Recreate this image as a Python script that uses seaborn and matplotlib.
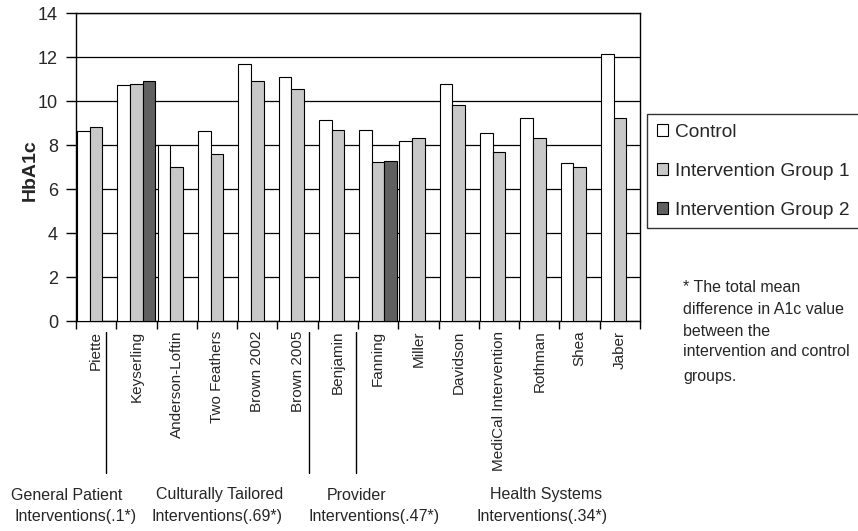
import matplotlib
matplotlib.use("Agg")
import matplotlib.pyplot as plt
import matplotlib.transforms as mtransforms
from matplotlib.patches import Patch
import numpy as np
import pandas as pd
import seaborn as sns

studies = ["Piette", "Keyserling", "Anderson-Loftin", "Two Feathers", "Brown 2002",
           "Brown 2005", "Benjamin", "Fanning", "Miller", "Davidson",
           "MediCal Intervention", "Rothman", "Shea", "Jaber"]
control = [8.62, 10.71, 7.98, 8.62, 11.67, 11.09, 9.15, 8.70, 8.18, 10.79, 8.56, 9.21, 7.17, 12.12]
group1 = [8.82, 10.79, 7.00, 7.60, 10.92, 10.55, 8.70, 7.23, 8.33, 9.83, 7.68, 8.32, 6.98, 9.21]
# Only two studies reported a second intervention arm
group2_studies = ["Keyserling", "Fanning"]
group2 = [10.92, 7.29]

groups = ["Control", "Intervention Group 1", "Intervention Group 2"]
colors = ["#ffffff", "#c8c8c8", "#606060"]

category_labels = [
    ("General Patient", "Interventions(.1*)"),
    ("Culturally Tailored", "Interventions(.69*)"),
    ("Provider", "Interventions(.47*)"),
    ("Health Systems", "Interventions(.34*)"),
]
footnote = ["* The total mean", "difference in A1c value", "between the",
            "intervention and control", "groups."]

rows = []
rows += [(s, groups[0], v) for s, v in zip(studies, control)]
rows += [(s, groups[1], v) for s, v in zip(studies, group1)]
rows += [(s, groups[2], v) for s, v in zip(group2_studies, group2)]
df = pd.DataFrame(rows, columns=["study", "group", "hba1c"])

sns.set_theme(style="white")
plt.rcParams["font.family"] = ["Liberation Sans", "DejaVu Sans"]

W, H = 858, 531
fig = plt.figure(figsize=(W / 100, H / 100), dpi=100)
ax = fig.add_axes([76 / W, 1 - 321 / H, (640 - 76) / W, (321 - 13) / H])

sns.barplot(data=df, x="study", y="hba1c", hue="group", order=studies,
            hue_order=groups, palette=dict(zip(groups, colors)), saturation=1,
            width=0.945, edgecolor="black", linewidth=0.8, errorbar=None,
            legend=False, ax=ax, zorder=3)

ax.set_ylim(0, 14)
ax.set_xlim(-0.5, len(studies) - 0.5)
ax.set_yticks(np.arange(0, 15, 2))
ax.yaxis.grid(True, color="black", linewidth=0.9, zorder=0)
ax.xaxis.grid(False)
ax.set_axisbelow(True)
for sp in ax.spines.values():
    sp.set_visible(True)
    sp.set_color("black")
    sp.set_linewidth(1.0)

ax.set_xlabel("")
ax.set_ylabel("")
ax.set_xticks(range(len(studies)))
ax.set_xticklabels(studies, rotation=90, fontsize=11, va="top", ha="center")
ax.set_xticks(np.arange(-0.5, len(studies), 1), minor=True)
ax.tick_params(axis="x", which="major", length=0, pad=7)
ax.tick_params(axis="x", which="minor", length=6, width=1, color="black", direction="out", bottom=True)
ax.tick_params(axis="y", length=7, width=1, color="black", direction="out", left=True,
               labelsize=13, pad=6)

# Separator lines between the intervention categories, below the axis
trans = mtransforms.blended_transform_factory(ax.transData, ax.transAxes)
for xs in [0.24, 5.28, 6.45]:
    ax.plot([xs, xs], [-0.035, -0.494], color="black", linewidth=1.0,
            transform=trans, clip_on=False)

fig.text(30 / W, 1 - 170 / H, "HbA1c", rotation=90, fontsize=14, fontweight="bold",
         ha="center", va="center")

# Category captions under the study names
centers = [(67, 76), (220, 217), (357, 374), (546, 542)]
for (l1, l2), (c1, c2) in zip(category_labels, centers):
    fig.text(c1 / W, 1 - 495 / H, l1, fontsize=11.5, ha="center", va="center")
    fig.text(c2 / W, 1 - 517 / H, l2, fontsize=11.5, ha="center", va="center")

for i, line in enumerate(footnote):
    y = [288, 310, 331, 352, 377][i]
    fig.text(683 / W, 1 - y / H, line, fontsize=11.5, ha="left", va="center")

handles = [Patch(facecolor=c, edgecolor="black", linewidth=0.8) for c in colors]
leg = fig.legend(handles, groups, loc="upper left",
                 bbox_to_anchor=(647 / W, 1 - 114 / H), borderaxespad=0,
                 fontsize=13.8, frameon=True, fancybox=False, shadow=False,
                 handlelength=0.6, handleheight=0.6, handletextpad=0.35,
                 labelspacing=1.15, borderpad=0.5)
leg.get_frame().set_edgecolor("black")
leg.get_frame().set_linewidth(1.0)

fig.savefig("out.png", dpi=100, facecolor="white")
